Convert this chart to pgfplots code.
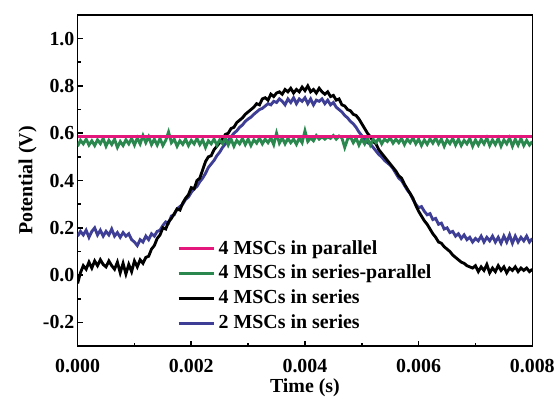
\documentclass[border=0pt]{standalone}
\usepackage{fontspec}
\setmainfont{Liberation Serif}
\usepackage{pgfplots}
\usepackage{pgfplotstable}
\pgfplotsset{compat=1.18}

\definecolor{mscpink}{RGB}{228,24,124}
\definecolor{mscgreen}{RGB}{42,135,78}
\definecolor{mscblue}{RGB}{62,62,150}

% t (s), 4 MSCs in series, 2 MSCs in series, 4 MSCs in series-parallel
\pgfplotstableread{
t black blue green
0.00000 -0.035 0.165 0.545
0.00005 0.010 0.185 0.570
0.00010 0.040 0.170 0.555
0.00015 0.025 0.190 0.575
0.00020 0.055 0.160 0.550
0.00025 0.030 0.185 0.568
0.00030 0.060 0.200 0.548
0.00035 0.040 0.170 0.572
0.00040 0.065 0.190 0.556
0.00045 0.045 0.165 0.578
0.00050 0.035 0.185 0.545
0.00055 0.060 0.170 0.570
0.00060 0.040 0.195 0.552
0.00065 0.025 0.165 0.575
0.00070 0.055 0.180 0.540
0.00075 0.010 0.160 0.565
0.00080 0.050 0.180 0.548
0.00085 0.005 0.165 0.572
0.00090 0.045 0.175 0.555
0.00095 0.015 0.150 0.578
0.00100 0.060 0.140 0.550
0.00105 0.035 0.125 0.580
0.00110 0.065 0.150 0.555
0.00115 0.050 0.140 0.590
0.00120 0.075 0.165 0.560
0.00125 0.080 0.150 0.585
0.00130 0.110 0.175 0.552
0.00135 0.125 0.165 0.575
0.00140 0.155 0.185 0.550
0.00145 0.170 0.190 0.578
0.00150 0.200 0.210 0.548
0.00155 0.195 0.225 0.570
0.00160 0.225 0.220 0.605
0.00165 0.240 0.250 0.560
0.00170 0.260 0.255 0.575
0.00175 0.280 0.280 0.545
0.00180 0.275 0.290 0.568
0.00185 0.305 0.300 0.553
0.00190 0.325 0.320 0.575
0.00195 0.340 0.330 0.548
0.00200 0.370 0.350 0.570
0.00205 0.365 0.365 0.555
0.00210 0.400 0.375 0.578
0.00215 0.410 0.395 0.552
0.00220 0.445 0.410 0.572
0.00225 0.480 0.430 0.540
0.00230 0.500 0.455 0.568
0.00235 0.505 0.470 0.555
0.00240 0.530 0.485 0.575
0.00245 0.545 0.505 0.550
0.00250 0.560 0.520 0.572
0.00255 0.575 0.540 0.556
0.00260 0.595 0.555 0.580
0.00265 0.600 0.570 0.550
0.00270 0.620 0.585 0.575
0.00275 0.625 0.600 0.545
0.00280 0.645 0.610 0.570
0.00285 0.655 0.625 0.555
0.00290 0.665 0.635 0.578
0.00295 0.680 0.650 0.552
0.00300 0.690 0.660 0.575
0.00305 0.700 0.668 0.548
0.00310 0.710 0.680 0.572
0.00315 0.725 0.690 0.558
0.00320 0.720 0.700 0.580
0.00325 0.745 0.705 0.555
0.00330 0.750 0.715 0.575
0.00335 0.740 0.725 0.560
0.00340 0.765 0.720 0.580
0.00345 0.755 0.735 0.552
0.00350 0.770 0.730 0.600
0.00355 0.775 0.745 0.558
0.00360 0.765 0.735 0.580
0.00365 0.785 0.720 0.555
0.00370 0.775 0.745 0.578
0.00375 0.790 0.730 0.560
0.00380 0.770 0.750 0.575
0.00385 0.785 0.725 0.553
0.00390 0.775 0.745 0.580
0.00395 0.795 0.735 0.560
0.00400 0.780 0.750 0.610
0.00405 0.800 0.725 0.565
0.00410 0.775 0.745 0.580
0.00415 0.785 0.720 0.568
0.00420 0.770 0.740 0.590
0.00425 0.790 0.735 0.575
0.00430 0.775 0.745 0.585
0.00435 0.765 0.725 0.575
0.00440 0.775 0.740 0.585
0.00445 0.755 0.720 0.578
0.00450 0.760 0.730 0.590
0.00455 0.740 0.710 0.575
0.00460 0.745 0.700 0.588
0.00465 0.720 0.690 0.580
0.00470 0.715 0.675 0.540
0.00475 0.700 0.665 0.575
0.00480 0.695 0.650 0.585
0.00485 0.680 0.640 0.560
0.00490 0.675 0.625 0.580
0.00495 0.660 0.605 0.550
0.00500 0.640 0.590 0.575
0.00505 0.620 0.575 0.555
0.00510 0.600 0.560 0.578
0.00515 0.585 0.555 0.550
0.00520 0.565 0.540 0.575
0.00525 0.555 0.525 0.560
0.00530 0.530 0.510 0.580
0.00535 0.515 0.500 0.555
0.00540 0.500 0.485 0.575
0.00545 0.485 0.475 0.565
0.00550 0.470 0.465 0.580
0.00555 0.455 0.450 0.558
0.00560 0.440 0.430 0.575
0.00565 0.420 0.410 0.560
0.00570 0.410 0.400 0.578
0.00575 0.385 0.380 0.552
0.00580 0.365 0.360 0.575
0.00585 0.345 0.345 0.560
0.00590 0.325 0.320 0.580
0.00595 0.295 0.300 0.555
0.00600 0.270 0.285 0.575
0.00605 0.250 0.290 0.548
0.00610 0.230 0.270 0.572
0.00615 0.215 0.255 0.553
0.00620 0.195 0.260 0.576
0.00625 0.175 0.235 0.558
0.00630 0.160 0.240 0.580
0.00635 0.140 0.215 0.555
0.00640 0.135 0.220 0.575
0.00645 0.120 0.195 0.545
0.00650 0.110 0.200 0.572
0.00655 0.100 0.180 0.556
0.00660 0.085 0.185 0.578
0.00665 0.075 0.165 0.550
0.00670 0.065 0.175 0.575
0.00675 0.055 0.155 0.548
0.00680 0.050 0.170 0.570
0.00685 0.040 0.150 0.555
0.00690 0.035 0.160 0.578
0.00695 0.030 0.140 0.545
0.00700 0.040 0.155 0.572
0.00705 0.015 0.145 0.550
0.00710 0.035 0.165 0.575
0.00715 0.020 0.140 0.555
0.00720 0.045 0.160 0.580
0.00725 0.010 0.145 0.548
0.00730 0.030 0.165 0.572
0.00735 0.015 0.140 0.552
0.00740 0.040 0.160 0.578
0.00745 0.020 0.135 0.545
0.00750 0.035 0.165 0.572
0.00755 0.010 0.140 0.555
0.00760 0.030 0.170 0.580
0.00765 0.020 0.135 0.545
0.00770 0.035 0.165 0.575
0.00775 0.015 0.140 0.550
0.00780 0.030 0.160 0.578
0.00785 0.020 0.145 0.548
0.00790 0.030 0.165 0.570
0.00795 0.015 0.140 0.550
0.00800 0.025 0.155 0.565
}\msc

\begin{document}
\begin{tikzpicture}[font=\fontsize{12.5}{14}\selectfont\bfseries]

\begin{axis}[
scale only axis,
width=285.6pt, height=208pt,
xmin=0, xmax=0.008,
ymin=-0.3, ymax=1.1,
xtick={0,0.002,0.004,0.006,0.008},
ytick={-0.2,0,0.2,0.4,0.6,0.8,1.0},
minor x tick num=1,
minor y tick num=1,
tick pos=left,
tick align=inside,
major tick length=3.5pt,
minor tick length=2pt,
axis line style={line width=1pt},
every tick/.style={line width=1pt, black},
scaled x ticks=false,
/pgf/number format/assume math mode=true,
xticklabel style={/pgf/number format/.cd, fixed, fixed zerofill, precision=3},
yticklabel style={/pgf/number format/.cd, fixed, fixed zerofill, precision=1},
xticklabel shift=4.5pt,
yticklabel shift=-1.5pt,
xlabel={Time (s)},
ylabel={Potential (V)},
xlabel style={yshift=3pt},
ylabel style={yshift=-3pt},
legend style={draw=none, fill=none, at={(0.208,0.34)}, anchor=north west,
  font=\fontsize{12.5}{14}\selectfont\bfseries, row sep=1.5pt},
legend cell align=left,
legend image code/.code={\draw[#1] (0cm,0cm) -- (0.78cm,0cm);},
reverse legend,
every axis plot/.append style={line width=1.8pt},
]
\addplot[mscblue] table[x=t, y=blue] {\msc};
\addlegendentry{2 MSCs in series}
\addplot[black] table[x=t, y=black] {\msc};
\addlegendentry{4 MSCs in series}
\addplot[mscgreen] table[x=t, y=green] {\msc};
\addlegendentry{4 MSCs in series-parallel}
\addplot[mscpink] coordinates {(0,0.587) (0.008,0.587)};
\addlegendentry{4 MSCs in parallel}
\end{axis}

\path ([xshift=-48.75pt,yshift=-33pt]current axis.south west)
  rectangle ([xshift=15.6pt,yshift=9.4pt]current axis.north east);

\end{tikzpicture}
\end{document}
